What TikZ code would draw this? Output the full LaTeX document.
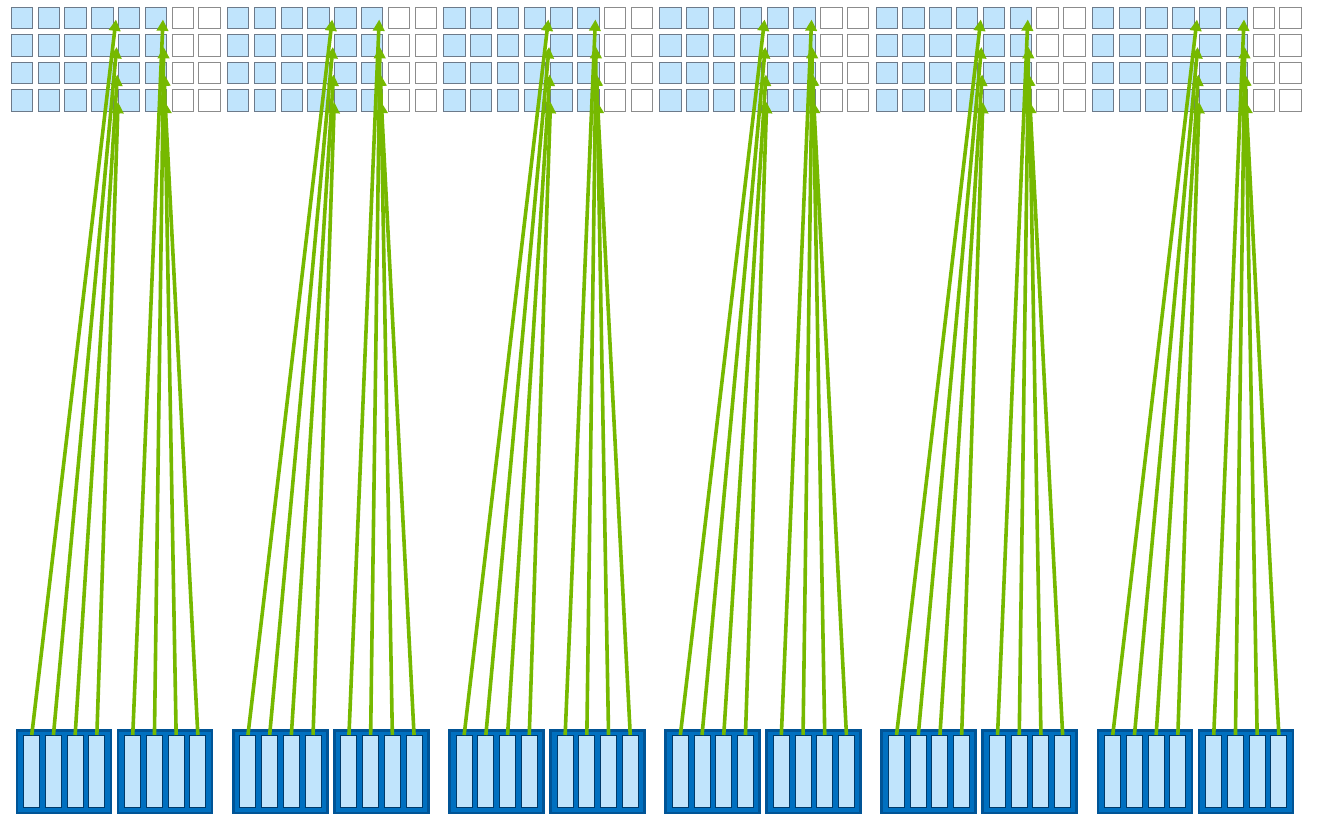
\documentclass[tikz,border=0pt]{standalone}
\usetikzlibrary{arrows.meta}

\definecolor{cellblue}{RGB}{192,228,252}
\definecolor{celledge}{RGB}{108,122,138}
\definecolor{freeedge}{RGB}{140,140,140}
\definecolor{boxblue}{RGB}{0,112,192}
\definecolor{boxedge}{RGB}{0,84,150}
\definecolor{baredge}{RGB}{0,58,105}
\definecolor{flowgreen}{RGB}{118,185,0}

\begin{document}
\begin{tikzpicture}[x=0.75pt,y=-0.75pt,
  cell/.style={draw=celledge, fill=cellblue, line width=0.8pt, inner sep=0pt, minimum size=16pt},
  freecell/.style={draw=freeedge, fill=white, line width=0.8pt, inner sep=0pt, minimum size=16pt},
  unit/.style={draw=boxedge, fill=boxblue, line width=2pt, inner sep=0pt, minimum width=70.5pt, minimum height=62pt},
  lane/.style={draw=baredge, fill=cellblue, line width=0.8pt, inner sep=0pt, minimum width=12pt, minimum height=54pt},
  flow/.style={-{Triangle[length=8.5pt,width=8.5pt]}, flowgreen, line width=2.7pt}]

% Canvas
\useasboundingbox (0,0) rectangle (1318,822);

% Parameters
\def\gp{216.2}   % group pitch
\def\cp{26.8}    % column pitch
\def\rp{27.5}    % row pitch
\def\lp{21.7}    % lane pitch

\foreach \g in {0,...,5} {
  \pgfmathsetmacro{\gx}{11+\gp*\g}

  % Grid: six filled columns, two free ones
  \foreach \c in {0,...,5}
    \foreach \r in {0,...,3}
      \node[cell] (c-\g-\c-\r) at ({\gx+11+\cp*\c},{18+\rp*\r}) {};
  \foreach \c in {6,7}
    \foreach \r in {0,...,3}
      \node[freecell] (c-\g-\c-\r) at ({\gx+11+\cp*\c},{18+\rp*\r}) {};

  % Two units with four lanes each
  \foreach \b in {0,1} {
    \pgfmathsetmacro{\bx}{\gx+5+101*\b}
    \node[unit] (u-\g-\b) at ({\bx+48},771.5) {};
    \foreach \k in {0,...,3} {
      \node[lane] (l-\g-\b-\k) at ({\bx+15.75+\lp*\k},771.5) {};
      \coordinate (t-\g-\b-\k) at ({\gx+105+47*\b+0.7*\k},{19.5+\rp*\k});
    }
  }
}

% Flows from lanes up to the grid
\foreach \g in {0,...,5}
  \foreach \b in {0,1}
    \foreach \k in {0,...,3}
      \draw[flow] (l-\g-\b-\k.north) -- (t-\g-\b-\k);

\end{tikzpicture}
\end{document}
